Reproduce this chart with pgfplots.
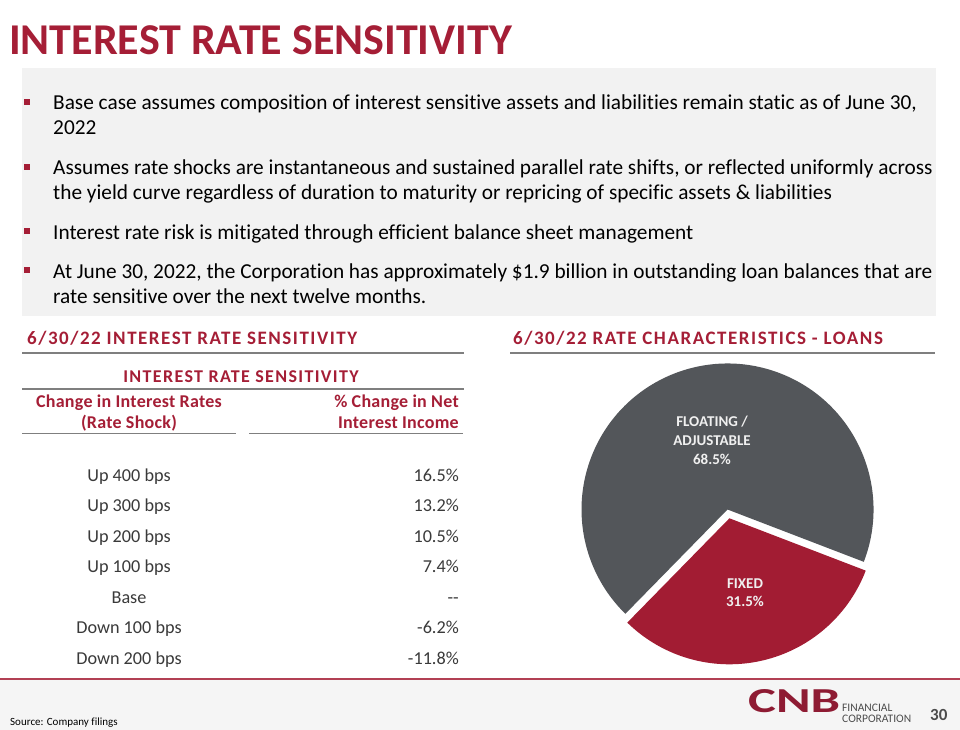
\documentclass[border=0pt]{standalone}
\usepackage{pgfplots}
\pgfplotsset{compat=1.18}
\usepackage{pgfplotstable}
\usepackage{fontspec}
\setmainfont{Carlito}[Ligatures=NoCommon]
\definecolor{cnbred}{HTML}{A51E36}
\definecolor{logored}{HTML}{8E1B33}
\definecolor{piegrey}{HTML}{53565A}
\definecolor{piered}{HTML}{A21C33}
\definecolor{boxgrey}{HTML}{F2F2F2}
\definecolor{footgrey}{HTML}{F5F5F5}
\definecolor{txtgrey}{HTML}{3A3A3A}
\definecolor{linegrey}{HTML}{7F7F7F}

\pgfplotstableread{
label value
Floating 68.5
Fixed 31.5
}\pietable

\begin{document}
\begin{tikzpicture}[x=1pt,y=1pt]
\useasboundingbox (0,0) rectangle (960,730);
\fill[white] (0,0) rectangle (960,730);
\pgfplotstablegetelem{0}{value}\of\pietable \let\vfloat\pgfplotsretval
\pgfplotstablegetelem{1}{value}\of\pietable \let\vfixed\pgfplotsretval
\pgfmathsetmacro{\aStart}{-21}
\pgfmathsetmacro{\aFloatEnd}{\aStart+3.6*\vfloat}
\pgfmathsetmacro{\aFixEnd}{\aStart-3.6*\vfixed}
\pgfmathsetmacro{\aMid}{(\aStart+\aFixEnd)/2}
\begin{axis}[at={(0,0)}, anchor=south west, scale only axis, width=960pt, height=730pt,
  xmin=0, xmax=960, ymin=0, ymax=730, y dir=reverse, hide axis, clip=false]
% title
\node[anchor=base west, inner sep=0, text=cnbred, font=\fontsize{44}{44}\selectfont\bfseries] at (9,55) {INTEREST RATE SENSITIVITY};
% grey box
\fill[boxgrey] (22,68) rectangle (936,316);
% bullets
\fill[cnbred] (24,99) rectangle (30,105);
\fill[cnbred] (24,164) rectangle (30,170);
\fill[cnbred] (24,228) rectangle (30,234);
\fill[cnbred] (24,267) rectangle (30,273);
\begin{scope}[every node/.style={anchor=base west, inner sep=0, text=black, font=\fontsize{21.3}{24}\selectfont}]
\node at (53,110) {Base case assumes composition of interest sensitive assets and liabilities remain static as of June 30,};
\node at (53,135) {2022};
\node at (53,175) {Assumes rate shocks are instantaneous and sustained parallel rate shifts, or reflected uniformly across};
\node at (53,200) {the yield curve regardless of duration to maturity or repricing of specific assets \& liabilities};
\node at (53,239) {Interest rate risk is mitigated through efficient balance sheet management};
\node at (53,278) {At June 30, 2022, the Corporation has approximately \$1.9 billion in outstanding loan balances that are};
\node at (53,303) {rate sensitive over the next twelve months.};
\end{scope}
% section headings
\begin{scope}[every node/.style={anchor=base west, inner sep=0, text=cnbred, font=\fontsize{19}{19}\selectfont\bfseries\addfontfeature{LetterSpace=8}}]
\node at (27,344) {6/30/22 INTEREST RATE SENSITIVITY};
\node at (513,344) {6/30/22 RATE CHARACTERISTICS - LOANS};
\end{scope}
\draw[linegrey, line width=1.5pt] (22,353) -- (464,353);
\draw[linegrey, line width=1.5pt] (510,353) -- (935,353);
% table
\node[anchor=base, inner sep=0, text=cnbred, font=\fontsize{18}{18}\selectfont\bfseries\addfontfeature{LetterSpace=7.5}] at (241,382) {INTEREST RATE SENSITIVITY};
\draw[linegrey, line width=1.2pt] (22,389) -- (464,389);
\begin{scope}[every node/.style={inner sep=0, text=cnbred, font=\fontsize{18}{18}\selectfont\bfseries\addfontfeature{LetterSpace=1.5}}]
\node[anchor=base] at (129,407) {Change in Interest Rates};
\node[anchor=base] at (129,428) {(Rate Shock)};
\node[anchor=base east] at (459,407) {\% Change in Net};
\node[anchor=base east] at (459,428) {Interest Income};
\end{scope}
\draw[linegrey, line width=1pt] (22,433) -- (236,433);
\draw[linegrey, line width=1pt] (249,433) -- (463,433);
\begin{scope}[every node/.style={inner sep=0, text=txtgrey, font=\fontsize{18.2}{18}\selectfont}]
\node[anchor=base] at (129,481) {Up 400 bps};   \node[anchor=base east] at (459,481) {16.5\%};
\node[anchor=base] at (129,511) {Up 300 bps};   \node[anchor=base east] at (459,511) {13.2\%};
\node[anchor=base] at (129,542) {Up 200 bps};   \node[anchor=base east] at (459,542) {10.5\%};
\node[anchor=base] at (129,572) {Up 100 bps};   \node[anchor=base east] at (459,572) {7.4\%};
\node[anchor=base] at (129,603) {Base};         \node[anchor=base east] at (459,603) {-{}-};
\node[anchor=base] at (129,633) {Down 100 bps}; \node[anchor=base east] at (459,633) {-6.2\%};
\node[anchor=base] at (129,664) {Down 200 bps}; \node[anchor=base east] at (459,664) {-11.8\%};
\end{scope}
% pie
\fill[piegrey] (727.5,509.5) -- ++(\aStart:146pt) arc[start angle=\aStart, end angle=\aFloatEnd, radius=146pt] -- cycle;
\fill[piered] (727.5,509.5) ++(\aMid:9pt) -- ++(\aStart:146pt) arc[start angle=\aStart, end angle=\aFixEnd, radius=146pt] -- cycle;
\begin{scope}[every node/.style={inner sep=0, anchor=base, text=white!94!black, font=\fontsize{15}{15}\selectfont\bfseries}]
\node at (712,426) {FLOATING /};
\node at (712,445) {ADJUSTABLE};
\node at (712,464) {68.5\%};
\node at (745,588) {FIXED};
\node at (745,606) {31.5\%};
\end{scope}
% footer
\fill[footgrey] (0,680) rectangle (960,730);
\draw[cnbred!85!white, line width=1.6pt] (0,679) -- (960,679);
\node[anchor=base west, inner sep=0, text=black, font=\fontsize{11}{11}\selectfont] at (10,725) {Source: Company filings};
\node[anchor=south west, inner sep=0, text=logored] at (748,713) {\resizebox{92pt}{23pt}{\bfseries CNB}};
\node[anchor=base west, inner sep=0, text=black!70, font=\fontsize{11.5}{11.5}\selectfont] at (842,711) {FINANCIAL};
\node[anchor=base west, inner sep=0, text=black!70, font=\fontsize{11.5}{11.5}\selectfont] at (842,722) {CORPORATION};
\node[anchor=base west, inner sep=0, text=black!70, font=\fontsize{17}{17}\selectfont\bfseries] at (930,720) {30};
\end{axis}
\end{tikzpicture}
\end{document}
